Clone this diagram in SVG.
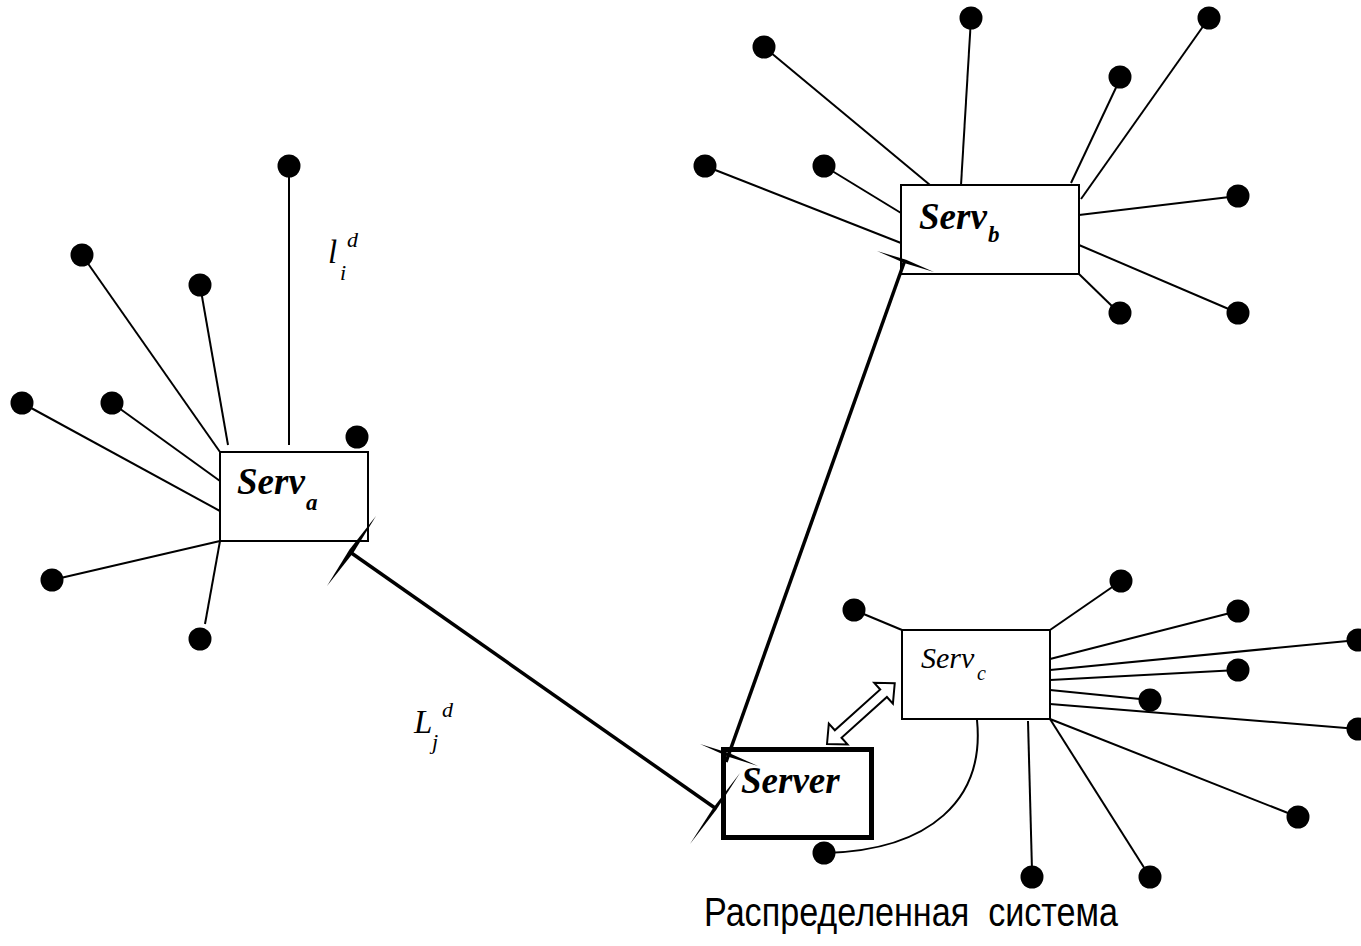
<svg xmlns="http://www.w3.org/2000/svg" width="1361" height="946" viewBox="0 0 1361 946">
<style>
.bg{fill:#fff}
.ln{stroke:#000;stroke-width:2;fill:none}
.thick{stroke:#000;stroke-width:3.5;fill:none}
.box{fill:#fff;stroke:#000;stroke-width:2}
.sbox{fill:#fff;stroke:#000;stroke-width:5}
.dot{fill:#000}
.tick{fill:#000}
.bi{font-family:"Liberation Serif",serif;font-style:italic;font-weight:bold;fill:#000}
.it{font-family:"Liberation Serif",serif;font-style:italic;fill:#000}
.cap{font-family:"Liberation Sans",Arial,sans-serif;fill:#000}
</style>
<rect class="bg" x="0" y="0" width="1361" height="946"/>
<g id="connectors">
  <!-- Serv_a spokes -->
  <line class="ln" x1="289" y1="166" x2="289" y2="445"/>
  <line class="ln" x1="82" y1="255" x2="220" y2="452"/>
  <line class="ln" x1="200" y1="285" x2="228" y2="445"/>
  <line class="ln" x1="22" y1="403" x2="220" y2="511"/>
  <line class="ln" x1="112" y1="403" x2="220" y2="481"/>
  <line class="ln" x1="52" y1="580" x2="220" y2="541"/>
  <line class="ln" x1="205" y1="624" x2="220" y2="541"/>
  <!-- Serv_b spokes -->
  <line class="ln" x1="764" y1="47" x2="930" y2="185"/>
  <line class="ln" x1="971" y1="18" x2="961" y2="185"/>
  <line class="ln" x1="705" y1="166" x2="901" y2="243"/>
  <line class="ln" x1="824" y1="166" x2="901" y2="213"/>
  <line class="ln" x1="1209" y1="18" x2="1081" y2="199"/>
  <line class="ln" x1="1121" y1="77" x2="1071" y2="183"/>
  <line class="ln" x1="1238" y1="196" x2="1079" y2="215"/>
  <line class="ln" x1="1238" y1="313" x2="1079" y2="245"/>
  <line class="ln" x1="1079" y1="274" x2="1115" y2="309"/>
  <!-- Serv_c spokes -->
  <line class="ln" x1="854" y1="610" x2="902" y2="630"/>
  <line class="ln" x1="1050" y1="630" x2="1121" y2="581"/>
  <line class="ln" x1="1050" y1="659" x2="1238" y2="611"/>
  <line class="ln" x1="1050" y1="670" x2="1358" y2="640"/>
  <line class="ln" x1="1050" y1="680" x2="1238" y2="670"/>
  <line class="ln" x1="1050" y1="690" x2="1150" y2="700"/>
  <line class="ln" x1="1050" y1="704" x2="1358" y2="729"/>
  <line class="ln" x1="1050" y1="719" x2="1298" y2="817"/>
  <line class="ln" x1="1050" y1="719" x2="1150" y2="877"/>
  <line class="ln" x1="1028" y1="721" x2="1032" y2="870"/>
  <path class="ln" d="M 977 720 C 985 800 930 850 826 853"/>
  <!-- double hollow arrow -->
  <polygon transform="translate(827,744) rotate(-41.9)" fill="#fff" stroke="#000" stroke-width="2" stroke-linejoin="miter" points="0,0 15,-14 15,-5 76,-5 76,-14 91,0 76,14 76,5 15,5 15,14"/>
</g>
<g id="node-serv-a">
  <rect class="box" x="220" y="452" width="148" height="89"/>
  <text class="bi" x="237" y="494" font-size="37">Serv</text>
  <text class="bi" x="306" y="510" font-size="23">a</text>
</g>
<g id="node-serv-b">
  <rect class="box" x="901" y="185" width="178" height="89"/>
  <text class="bi" x="919" y="229" font-size="37">Serv</text>
  <text class="bi" x="988" y="242" font-size="23">b</text>
</g>
<g id="node-serv-c">
  <rect class="box" x="902" y="630" width="148" height="89"/>
  <text class="it" x="921" y="668" font-size="30">Serv</text>
  <text class="it" x="977" y="680" font-size="20">c</text>
</g>
<g id="node-server">
  <rect class="sbox" x="723.5" y="749.5" width="148" height="88"/>
  <text class="bi" x="741" y="793" font-size="37">Server</text>
</g>
<g id="trunk-links">
  <line class="thick" x1="350" y1="552" x2="715" y2="808"/>
  <line class="thick" x1="726" y1="762" x2="905" y2="260"/>
  <polygon class="tick" points="327,586 353.5,552.5 376,516 349.5,549.5"/>
  <polygon class="tick" points="690,844 716.5,809.5 740,773 713.5,807.5"/>
  <polygon class="tick" points="700,744 728.4,756.7 758,766 729.6,753.3"/>
  <polygon class="tick" points="877,251 904.9,263.2 934,272 906.1,259.8"/>
</g>
<g id="terminals-a">
  <circle class="dot" cx="289" cy="166" r="11.5"/>
  <circle class="dot" cx="82" cy="255" r="11.5"/>
  <circle class="dot" cx="200" cy="285" r="11.5"/>
  <circle class="dot" cx="22" cy="403" r="11.5"/>
  <circle class="dot" cx="112" cy="403" r="11.5"/>
  <circle class="dot" cx="357" cy="437" r="11.5"/>
  <circle class="dot" cx="52" cy="580" r="11.5"/>
  <circle class="dot" cx="200" cy="639" r="11.5"/>
</g>
<g id="terminals-b">
  <circle class="dot" cx="764" cy="47" r="11.5"/>
  <circle class="dot" cx="971" cy="18" r="11.5"/>
  <circle class="dot" cx="705" cy="166" r="11.5"/>
  <circle class="dot" cx="824" cy="166" r="11.5"/>
  <circle class="dot" cx="1209" cy="18" r="11.5"/>
  <circle class="dot" cx="1120" cy="77" r="11.5"/>
  <circle class="dot" cx="1238" cy="196" r="11.5"/>
  <circle class="dot" cx="1238" cy="313" r="11.5"/>
  <circle class="dot" cx="1120" cy="313" r="11.5"/>
</g>
<g id="terminals-c">
  <circle class="dot" cx="854" cy="610" r="11.5"/>
  <circle class="dot" cx="1121" cy="581" r="11.5"/>
  <circle class="dot" cx="1238" cy="611" r="11.5"/>
  <circle class="dot" cx="1358" cy="640" r="11.5"/>
  <circle class="dot" cx="1238" cy="670" r="11.5"/>
  <circle class="dot" cx="1150" cy="700" r="11.5"/>
  <circle class="dot" cx="1358" cy="729" r="11.5"/>
  <circle class="dot" cx="1298" cy="817" r="11.5"/>
  <circle class="dot" cx="1150" cy="877" r="11.5"/>
  <circle class="dot" cx="1032" cy="877" r="11.5"/>
  <circle class="dot" cx="824" cy="853" r="11.5"/>
</g>
<g id="labels">
  <text class="it" x="328" y="263" font-size="33">l</text>
  <text class="it" x="347" y="247" font-size="22">d</text>
  <text class="it" x="340" y="280" font-size="22">i</text>
  <text class="it" x="414" y="733" font-size="33">L</text>
  <text class="it" x="442" y="717" font-size="22">d</text>
  <text class="it" x="432" y="749" font-size="22">j</text>
  <text class="cap" x="704" y="926" font-size="40" textLength="414" lengthAdjust="spacingAndGlyphs" xml:space="preserve">Распределенная  система</text>
</g>
</svg>
